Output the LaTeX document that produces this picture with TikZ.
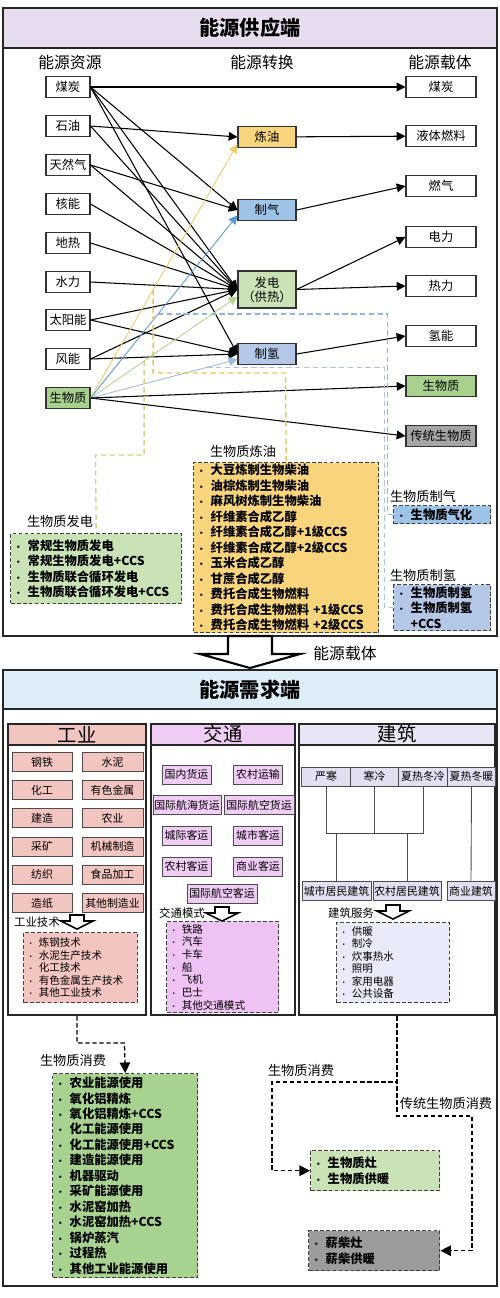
\documentclass[tikz,border=0pt]{standalone}
\usepackage{fontspec}
\setmainfont{Noto Sans CJK SC}
\usepackage{xcolor}
\definecolor{supplyBand}{HTML}{E8DDEE}
\definecolor{demandBand}{HTML}{DDEEF8}
\definecolor{oilFill}{HTML}{F8D47C}
\definecolor{gasFill}{HTML}{9DC3E6}
\definecolor{powerFill}{HTML}{C9E2B6}
\definecolor{hydroFill}{HTML}{B4C7E7}
\definecolor{bioFill}{HTML}{A9D18E}
\definecolor{tradFill}{HTML}{A6A6A6}
\definecolor{oilLine}{HTML}{EDCB6A}
\definecolor{gasLine}{HTML}{5B9BD5}
\definecolor{powerLine}{HTML}{B3D48C}
\definecolor{hydroLine}{HTML}{9FB8DF}
\definecolor{oilDash}{HTML}{E6C35C}
\definecolor{gasDash}{HTML}{8EB4DE}
\definecolor{hydroDash}{HTML}{A9C2E6}
\definecolor{powerDash}{HTML}{D6CF86}
\definecolor{indFill}{HTML}{F2C5C0}
\definecolor{traFill}{HTML}{F0CDF5}
\definecolor{traMode}{HTML}{EEC2F2}
\definecolor{bldHead}{HTML}{E8E6F4}
\definecolor{bldFill}{HTML}{E0E0F0}
\definecolor{bldServ}{HTML}{E8EAF8}
\definecolor{useGreen}{HTML}{A8D28F}
\definecolor{stoveGray}{HTML}{9C9C9C}
\usepackage{tikz}
\usetikzlibrary{arrows.meta}
\newcommand{\itm}{\makebox[1.1em][l]{\scalebox{0.7}{\textbullet}}}
\newcommand{\hollowdown}[2]{%
    \draw[line width=0.9pt, fill=white, shift={(#1,#2)}]
        (-7,0) -- (7,0) -- (7,6) -- (16,6) -- (0,14) -- (-16,6) -- (-7,6) -- cycle;}
\tikzset{
    frame/.style={draw=black!85, line width=1.3pt},
    titleband/.style={
        draw=black!85,
        line width=1.3pt,
        minimum width=9.88cm,
        minimum height=0.8cm,
        inner sep=0pt,
        font=\fontsize{11.5}{13}\selectfont\bfseries
    },
    head/.style={font=\fontsize{9}{10}\selectfont},
    src/.style={
        draw=black!80,
        line width=0.6pt,
        fill=white,
        rectangle,
        minimum width=0.88cm,
        minimum height=0.42cm,
        inner sep=0pt,
        font=\fontsize{7}{8}\selectfont
    },
    conv/.style={src, minimum width=1.16cm},
    carrier/.style={src, minimum width=1.4cm},
    flow/.style={-{Triangle[length=5pt,width=5pt]}, line width=0.6pt, black},
    bioflow/.style={-{Triangle[length=5pt,width=5pt]}, line width=0.5pt},
    tapline/.style={line width=0.8pt, dash pattern=on 3pt off 2pt},
    detail/.style={
        draw=black!75,
        line width=0.8pt,
        dash pattern=on 2.2pt off 1.2pt,
        anchor=north west,
        align=left,
        inner xsep=2pt,
        inner ysep=1pt,
        font=\fontsize{7}{8.8}\selectfont\bfseries
    },
    lbl/.style={font=\fontsize{7.5}{9}\selectfont},
    sector/.style={draw=black!85, line width=1.3pt, minimum height=5.82cm, inner sep=0pt},
    sechead/.style={
        draw=black!85,
        line width=1.3pt,
        minimum height=0.42cm,
        inner sep=0pt,
        font=\fontsize{11}{12}\selectfont
    },
    small/.style={
        draw=black!70,
        line width=0.5pt,
        minimum height=0.38cm,
        inner sep=0pt,
        font=\fontsize{6.2}{7}\selectfont
    },
    usearrow/.style={-{Triangle[length=6pt,width=6pt]}, line width=0.7pt, dash pattern=on 2.5pt off 1.5pt}
}

\begin{document}
\begin{tikzpicture}[x=0.02cm, y=-0.02cm]
    \useasboundingbox (0,0) rectangle (500,1298);

    % Supply side
    \draw[frame] (3,8) rectangle (497,636);
    \node[titleband, fill=supplyBand] (supplyTitle) at (250,28) {能源供应端};
    \node[head] (hRes) at (70,62) {能源资源};
    \node[head] (hConv) at (262,62) {能源转换};
    \node[head] (hCar) at (440,62) {能源载体};

    \foreach \name/\txt/\yy in {coal/煤炭/87, oil/石油/126, gas/天然气/165, nuke/核能/204,
        geo/地热/243, hyd/水力/282, sun/太阳能/320, wind/风能/359}
        \node[src] (\name) at (68,\yy) {\txt};
    \node[src, fill=bioFill] (bio) at (68,398) {生物质};

    \node[conv, fill=oilFill] (refine) at (267,137) {炼油};
    \node[conv, fill=gasFill] (gasify) at (267,210) {制气};
    \node[conv, fill=powerFill, minimum height=0.74cm, align=center] (power) at (267,289.5) {发电\\（供热）};
    \node[conv, fill=hydroFill] (hydrogen) at (267,354) {制氢};

    \foreach \name/\txt/\yy in {cCoal/煤炭/87, cLiq/液体燃料/136, cGas/燃气/186, cElec/电力/237,
        cHeat/热力/286, cH2/氢能/336}
        \node[carrier] (\name) at (441,\yy) {\txt};
    \node[carrier, fill=bioFill] (cBio) at (441,386) {生物质};
    \node[carrier, fill=tradFill] (cTrad) at (441,436) {传统生物质};

    % resources to conversion
    \draw[flow] (coal) -- (cCoal);
    \foreach \s/\t in {oil/refine, coal/gasify, gas/gasify, coal/power, oil/power, gas/power,
        nuke/power, geo/power, hyd/power, sun/power, wind/power, coal/hydrogen, sun/hydrogen, wind/hydrogen}
        \draw[flow] (\s.east) -- (\t.west);
    \draw[bioflow, oilLine] (bio.east) -- coordinate[pos=0.426] (oilTap) ([yshift=-4pt]refine.west);
    \draw[bioflow, gasLine] (bio.east) -- coordinate[pos=0.459] (gasTap) ([yshift=-3pt]gasify.west);
    \draw[bioflow, powerLine] (bio.east) -- coordinate[pos=0.365] (powTap) ([yshift=-4pt]power.west);
    \draw[bioflow, hydroLine] (bio.east) -- coordinate[pos=0.795] (h2Tap) ([yshift=-3pt]hydrogen.west);

    % conversion to carriers
    \draw[flow] (refine) -- (cLiq);
    \draw[flow] (gasify.east) -- (cGas.west);
    \draw[flow] (power.east) -- (cElec.west);
    \draw[flow] (power.east) -- (cHeat.west);
    \draw[flow] (hydrogen.east) -- (cH2.west);
    \draw[flow] (bio.east) -- (cBio.west);
    \draw[flow] (bio.east) -- (cTrad.west);

    % biomass technologies
    \node[detail, fill=powerFill, text width=3.28cm, minimum height=1.4cm] (bpBox) at (10,533)
        {\itm 常规生物质发电\\ \itm 常规生物质发电+CCS\\ \itm 生物质联合循环发电\\ \itm 生物质联合循环发电+CCS};
    \node[lbl] (bpLabel) at (60,521) {生物质发电};
    \node[detail, fill=oilFill, text width=3.56cm, minimum height=3.4cm] (boBox) at (193,462)
        {\itm 大豆炼制生物柴油\\ \itm 油棕炼制生物柴油\\ \itm 麻风树炼制生物柴油\\ \itm 纤维素合成乙醇\\
         \itm 纤维素合成乙醇+1级CCS\\ \itm 纤维素合成乙醇+2级CCS\\ \itm 玉米合成乙醇\\ \itm 甘蔗合成乙醇\\
         \itm 费托合成生物燃料\\ \itm 费托合成生物燃料 +1级CCS\\ \itm 费托合成生物燃料 +2级CCS};
    \node[lbl] (boLabel) at (243,451) {生物质炼油};
    \node[detail, fill=gasFill, text width=1.8cm, minimum height=0.36cm] (bgBox) at (393,505)
        {\itm 生物质气化};
    \node[lbl] (bgLabel) at (423,496) {生物质制气};
    \node[detail, fill=hydroFill, text width=1.8cm, minimum height=0.92cm] (bhBox) at (393,584)
        {\itm 生物质制氢\\ \itm 生物质制氢\\ \makebox[1.1em]{}+CCS};
    \node[lbl] (bhLabel) at (423,575) {生物质制氢};

    \coordinate (oilBend) at (285.5,373);
    \coordinate (powBend) at (95.5,455);
    \draw[tapline, oilDash] (oilTap) |- (oilBend) -- (boBox.north);
    \draw[tapline, powerDash] (powTap) |- (powBend) -- (bpBox.north);
    \draw[tapline, gasDash] (gasTap) -| ([xshift=-3pt]bgBox.west) -- (bgBox.west);
    \draw[tapline, hydroDash] (h2Tap) -| ([xshift=-5pt]bhBox.west) -- (bhBox.west);

    % energy carrier arrow
    \draw[line width=1.2pt, fill=white] (228,636) -- (272,636) -- (272,654) -- (300,654)
        -- (250,668) -- (200,654) -- (228,654) -- cycle;
    \node[head] (carLabel) at (345,653) {能源载体};

    % Demand side
    \draw[frame] (3,670) rectangle (497,1286);
    \node[titleband, fill=demandBand, minimum height=0.78cm] (demandTitle) at (250,689.5) {能源需求端};

    \node[sector, minimum width=2.76cm] (indFrame) at (77,869.5) {};
    \node[sector, minimum width=2.88cm] (traFrame) at (223,869.5) {};
    \node[sector, minimum width=3.92cm] (bldFrame) at (397,869.5) {};
    \node[sechead, fill=indFill, minimum width=2.76cm] (indHead) at (77,734.5) {工业};
    \node[sechead, fill=traFill, minimum width=2.88cm] (traHead) at (223,734.5) {交通};
    \node[sechead, fill=bldHead, minimum width=3.92cm] (bldHead) at (397,734.5) {建筑};

    % industry
    \foreach \l/\r [count=\i from 0] in {钢铁/水泥, 化工/有色金属, 建造/农业, 采矿/机械制造, 纺织/食品加工, 造纸/其他制造业} {
        \node[small, fill=indFill, minimum width=1.2cm] (indL\i) at (42,762+28.2*\i) {\l};
        \node[small, fill=indFill, minimum width=1.22cm] (indR\i) at (112.5,762+28.2*\i) {\r};
    }
    \node[lbl, font=\fontsize{6.5}{8}\selectfont] (itLabel) at (37,922) {工业技术};
    \hollowdown{77}{915}
    \node[detail, fill=indFill, font=\fontsize{6}{7.1}\selectfont, text width=2.14cm, minimum height=1.4cm] (itBox) at (23,932)
        {\itm 炼钢技术\\ \itm 水泥生产技术\\ \itm 化工技术\\ \itm 有色金属生产技术\\ \itm 其他工业技术};

    % transport
    \node[small, fill=traFill, minimum width=0.98cm] (traA) at (186.5,774.5) {国内货运};
    \node[small, fill=traFill, minimum width=0.98cm] (traB) at (258,774.5) {农村运输};
    \node[small, fill=traFill, minimum width=1.36cm] (traC) at (187,805) {国际航海货运};
    \node[small, fill=traFill, minimum width=1.4cm] (traD) at (259,805) {国际航空货运};
    \node[small, fill=traFill, minimum width=0.98cm] (traE) at (186.5,835.5) {城际客运};
    \node[small, fill=traFill, minimum width=0.98cm] (traF) at (258,835.5) {城市客运};
    \node[small, fill=traFill, minimum width=0.98cm] (traG) at (186.5,866.5) {农村客运};
    \node[small, fill=traFill, minimum width=0.98cm] (traH) at (258,866.5) {商业客运};
    \node[small, fill=traFill, minimum width=1.4cm] (traI) at (222,893.5) {国际航空客运};
    \node[lbl, font=\fontsize{6.5}{8}\selectfont] (tmLabel) at (182,913) {交通模式};
    \hollowdown{222}{907}
    \node[detail, fill=traMode, font=\fontsize{6}{7.2}\selectfont, text width=2.1cm, minimum height=1.82cm] (tmBox) at (166,921)
        {\itm 铁路\\ \itm 汽车\\ \itm 卡车\\ \itm 船\\ \itm 飞机\\ \itm 巴士\\ \itm 其他交通模式};

    % buildings
    \foreach \txt [count=\i from 0] in {严寒, 寒冷, 夏热冬冷, 夏热冬暖}
        \node[small, fill=bldFill, minimum width=0.97cm] (clim\i) at (326+48.5*\i,776.5) {\txt};
    \node[small, fill=bldFill, minimum width=1.38cm] (urban) at (336.5,891) {城市居民建筑};
    \node[small, fill=bldFill, minimum width=1.36cm] (rural) at (407,891) {农村居民建筑};
    \node[small, fill=bldFill, minimum width=0.96cm] (comm) at (471,891) {商业建筑};
    \coordinate (treeL) at (326,833);
    \coordinate (treeR) at (423,833);
    \draw[line width=0.5pt, black!70] (clim0.south) -- (treeL) -- (treeR) -- (clim2.south);
    \draw[line width=0.5pt, black!70] (clim1.south) -- (clim1.south |- treeL);
    \draw[line width=0.5pt, black!70] (urban.north) -- (urban.north |- treeL);
    \draw[line width=0.5pt, black!70] (rural.north) -- (rural.north |- treeL);
    \draw[line width=0.5pt, black!70] (clim3.south) -- (comm.north);
    \node[lbl, font=\fontsize{6.5}{8}\selectfont] (bsLabel) at (351,913) {建筑服务};
    \hollowdown{393}{905}
    \node[detail, fill=bldServ, font=\fontsize{6}{7.1}\selectfont, text width=2.12cm, minimum height=1.6cm] (bsBox) at (336,922)
        {\itm 供暖\\ \itm 制冷\\ \itm 炊事热水\\ \itm 照明\\ \itm 家用电器\\ \itm 公共设备};

    % biomass consumption
    \node[detail, fill=useGreen, text width=2.76cm, minimum height=4.08cm] (iuBox) at (52,1073)
        {\itm 农业能源使用\\ \itm 氧化铝精炼\\ \itm 氧化铝精炼+CCS\\ \itm 化工能源使用\\ \itm 化工能源使用+CCS\\
         \itm 建造能源使用\\ \itm 机器驱动\\ \itm 采矿能源使用\\ \itm 水泥窑加热\\ \itm 水泥窑加热+CCS\\
         \itm 锅炉蒸汽\\ \itm 过程热\\ \itm 其他工业能源使用};
    \node[detail, fill=powerFill, text width=2.44cm, minimum height=0.8cm] (stoveBox) at (310,1150)
        {\itm 生物质灶\\ \itm 生物质供暖};
    \node[detail, fill=stoveGray, text width=2.48cm, minimum height=0.8cm] (woodBox) at (308,1230)
        {\itm 薪柴灶\\ \itm 薪柴供暖};

    \coordinate (indBend) at (124.5,1043);
    \coordinate (bldBend) at (272,1082);
    \coordinate (tradBend) at (472,1116);
    \draw[usearrow] (indFrame.south) |- (indBend) -- (iuBox.north);
    \draw[usearrow] (bldFrame.south) |- (bldBend) |- (stoveBox.west);
    \draw[usearrow] (bldFrame.south) |- (tradBend) |- (woodBox.east);
    \node[lbl] (iuLabel) at (73,1060) {生物质消费};
    \node[lbl] (svLabel) at (301,1070) {生物质消费};
    \node[lbl] (trLabel) at (446,1103) {传统生物质消费};
\end{tikzpicture}
\end{document}
